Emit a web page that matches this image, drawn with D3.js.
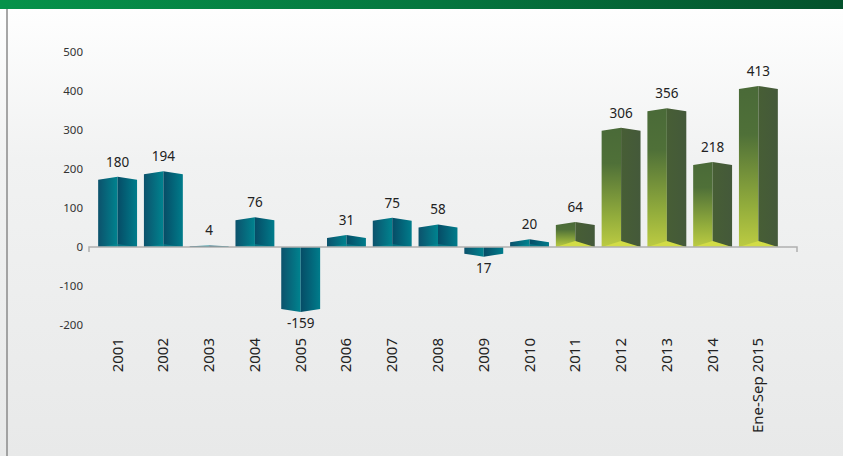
<!DOCTYPE html>
<html>
<head>
<meta charset="utf-8">
<script src="https://cdn.jsdelivr.net/npm/d3@7"></script>
<style>
  body { margin: 0; }
  svg { display: block; font-family: "Noto Sans", sans-serif; }
</style>
</head>
<body>
<svg id="chart"></svg>
<script>
// datos
const years = ["2001", "2002", "2003", "2004", "2005", "2006", "2007", "2008",
  "2009", "2010", "2011", "2012", "2013", "2014", "Ene-Sep 2015"];
const values = [180, 194, 4, 76, -159, 31, 75, 58, -17, 20, 64, 306, 356, 218, 413];
const valueLabels = ["180", "194", "4", "76", "-159", "31", "75", "58", "17", "20",
  "64", "306", "356", "218", "413"];
const greenYears = ["2011", "2012", "2013", "2014", "Ene-Sep 2015"];
const yTicks = [500, 400, 300, 200, 100, 0, -100, -200];

const width = 843, height = 456;
const svg = d3.select("#chart").attr("width", width).attr("height", height);
const defs = svg.append("defs");

function grad(id, stops, vertical) {
  const g = defs.append("linearGradient").attr("id", id)
    .attr("x1", 0).attr("y1", 0)
    .attr("x2", vertical ? 0 : 1).attr("y2", vertical ? 1 : 0);
  stops.forEach(s => g.append("stop").attr("offset", s[0]).attr("stop-color", s[1]));
}

grad("bg", [[0, "#ffffff"], [0.35, "#f1f2f2"], [1, "#e8e9e9"]], true);
grad("header", [[0, "#06924a"], [0.5, "#05773f"], [1, "#04522c"]], false);
grad("tealL", [[0, "#0c526c"], [1, "#00838f"]], false);
grad("tealR", [[0, "#064c66"], [1, "#007c8b"]], false);
grad("greenL", [[0, "#4a6a38"], [0.3, "#4f7038"], [0.75, "#93ad3c"], [1, "#bccb42"]], true);
grad("greenR", [[0, "#475e35"], [1, "#44593a"]], false);

svg.append("rect").attr("width", width).attr("height", height).attr("fill", "url(#bg)");
svg.append("rect").attr("width", width).attr("height", 9).attr("fill", "url(#header)");
svg.append("line").attr("x1", 7).attr("x2", 7).attr("y1", 9).attr("y2", height)
  .attr("stroke", "#8a8a8a").attr("stroke-width", 1.5);

const x = d3.scaleBand().domain(years).range([89, 787]).paddingInner(0.15).paddingOuter(0.2);
const y = d3.scaleLinear().domain([-200, 500]).range([325, 52]);
const y0 = y(0);

// eje y
const yAxis = svg.append("g").attr("transform", "translate(83,0)")
  .call(d3.axisLeft(y).tickValues(yTicks).tickSize(0).tickPadding(0).tickFormat(d => String(d)));
yAxis.select(".domain").remove();
yAxis.selectAll("text").attr("font-size", 11.5).attr("fill", "#333")
  .attr("font-family", "Noto Sans, sans-serif");

// barras
const bars = svg.append("g").selectAll("g").data(years).join("g");

bars.each(function(d, i) {
  const g = d3.select(this);
  const v = values[i];
  const isGreen = greenYears.includes(d);
  const x0 = x(d), x1 = x(d) + x.bandwidth(), xm = (x0 + x1) / 2;
  const yv = y(v);
  const h = Math.abs(yv - y0);
  const off = Math.min(3, h / 2);
  const L = isGreen ? "url(#greenL)" : "url(#tealL)";
  const R = isGreen ? "url(#greenR)" : "url(#tealR)";
  let left, right;
  if (v >= 0) {
    left = [[x0, yv + off], [xm, yv], [xm, y0], [x0, y0]];
    right = [[xm, yv], [x1, yv + off], [x1, y0], [xm, y0]];
  } else {
    left = [[x0, y0], [xm, y0], [xm, yv + off], [x0, yv]];
    right = [[xm, y0], [x1, y0], [x1, yv], [xm, yv + off]];
  }
  g.append("polygon").attr("points", left.join(" ")).attr("fill", L);
  g.append("polygon").attr("points", right.join(" ")).attr("fill", R);
  if (v > 0 && h > 6) {
    const tri = [[x0, y0], [xm, y0 - (isGreen ? 6 : 3)], [x1, y0]];
    g.append("polygon").attr("points", tri.join(" "))
      .attr("fill", isGreen ? "#d2dc46" : "#0a8a95").attr("opacity", isGreen ? 1 : 0.6);
  }
  g.append("text")
    .attr("x", xm)
    .attr("y", v >= 0 ? yv - 10 : yv + 19)
    .attr("text-anchor", "middle")
    .attr("font-size", 13.5)
    .attr("fill", "#222")
    .text(valueLabels[i]);
});

// linea cero
svg.append("path")
  .attr("d", `M89,${y0 + 5}V${y0}H797V${y0 + 5}`)
  .attr("fill", "none").attr("stroke", "#b0b0b0").attr("stroke-width", 1.5);

// etiquetas de categorias
svg.append("g").selectAll("text").data(years).join("text")
  .attr("transform", d => `translate(${x(d) + x.bandwidth() / 2 + 5},338) rotate(-90)`)
  .attr("text-anchor", "end")
  .attr("font-size", 15)
  .attr("fill", "#222")
  .text(d => d);
</script>
</body>
</html>
